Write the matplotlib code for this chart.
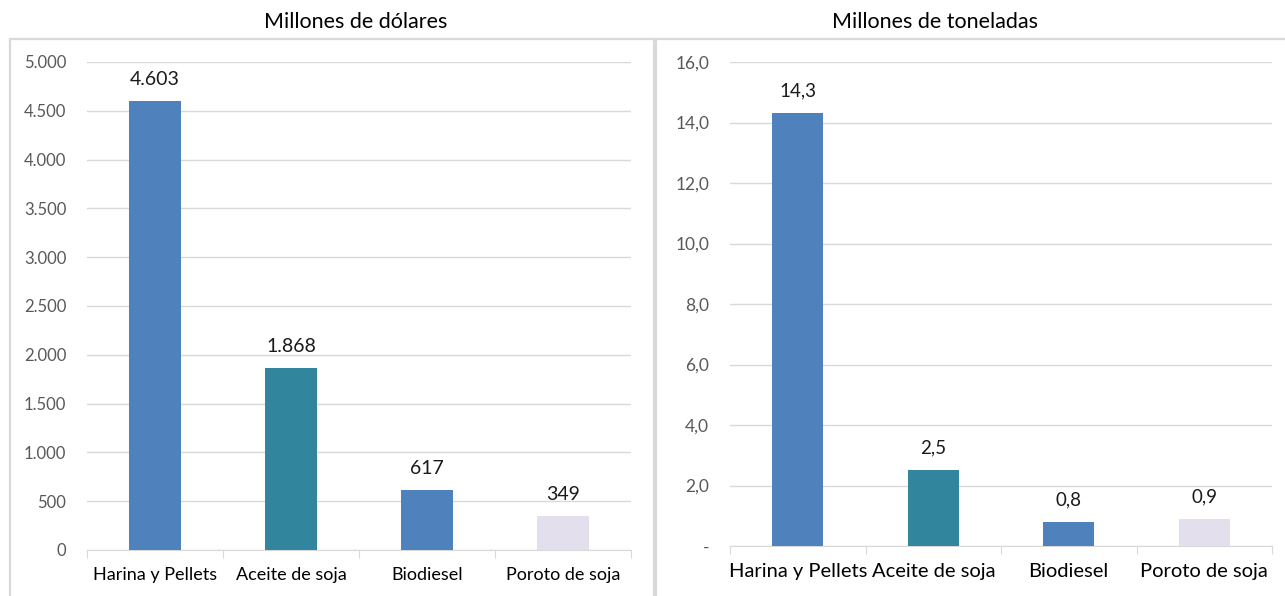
import matplotlib.pyplot as plt
from matplotlib.patches import Rectangle

plt.rcParams['font.family'] = ['Lato', 'DejaVu Sans']

# data
categorias = ['Harina y Pellets', 'Aceite de soja', 'Biodiesel', 'Poroto de soja']
dolares = [4603, 1868, 617, 349]
toneladas = [14.3, 2.5, 0.8, 0.9]
colores = ['#4F81BD', '#31859C', '#4F81BD', '#E4DFEC']

ticks_usd = [0, 500, 1000, 1500, 2000, 2500, 3000, 3500, 4000, 4500, 5000]
ticks_ton = [0, 2, 4, 6, 8, 10, 12, 14, 16]

fig = plt.figure(figsize=(12.85, 5.96), dpi=100)

# panel frames (like the excel chart borders)
W, H = 1285, 596
for x0, x1 in [(10, 654), (656, 1290)]:
    fig.patches.append(Rectangle((x0 / W, -0.01), (x1 - x0) / W, 1 - 39 / H + 0.01,
                                 transform=fig.transFigure, fill=False,
                                 edgecolor='#D9D9D9', linewidth=1.6))


def fmt_usd(v):
    return f"{int(v):,}".replace(',', '.')


def fmt_ton(v):
    if v == 0:
        return '-'
    return f"{v:.1f}".replace('.', ',')


def panel(rect, valores, ticks, fmt, label_fmt, pad, fs_tick, fs_cat, fs_lab):
    ax = fig.add_axes(rect)
    x = range(len(categorias))
    ax.bar(x, valores, width=0.38, color=colores, zorder=3)
    ax.set_xlim(-0.5, len(categorias) - 0.5)
    ax.set_ylim(ticks[0], ticks[-1])
    ax.set_yticks(ticks)
    ax.set_yticklabels([fmt(t) for t in ticks], color='#595959', fontsize=fs_tick)
    ax.grid(axis='y', color='#D9D9D9', linewidth=1, zorder=0)
    ax.set_xticks([i - 0.5 for i in range(len(categorias) + 1)], minor=False)
    ax.set_xticklabels([])
    ax.set_xticks(list(x), minor=True)
    ax.set_xticklabels(categorias, minor=True, fontsize=fs_cat)
    ax.tick_params(axis='x', which='major', length=6, color='#D9D9D9')
    ax.tick_params(axis='x', which='minor', length=0, pad=12)
    ax.tick_params(axis='y', length=0, pad=15)
    for s in ['top', 'right', 'left']:
        ax.spines[s].set_visible(False)
    ax.spines['bottom'].set_color('#D9D9D9')
    for i, v in enumerate(valores):
        ax.text(i, v + pad, label_fmt(v), ha='center', va='bottom', fontsize=fs_lab, color='#1a1a1a')
    return ax


panel([87 / W, 1 - 550 / H, 544 / W, 488 / H], dolares, ticks_usd, fmt_usd,
      fmt_usd, 130, 12, 13, 14)
panel([730 / W, 1 - 546 / H, 542 / W, 484 / H], toneladas, ticks_ton, fmt_ton,
      lambda v: f"{v:.1f}".replace('.', ','), 0.45, 12.5, 14.5, 13.5)

fig.text(356 / W, 1 - 22 / H, 'Millones de dólares', ha='center', va='center', fontsize=15.5)
fig.text(935 / W, 1 - 22 / H, 'Millones de toneladas', ha='center', va='center', fontsize=15.5)

fig.savefig('out.png', dpi=100)
